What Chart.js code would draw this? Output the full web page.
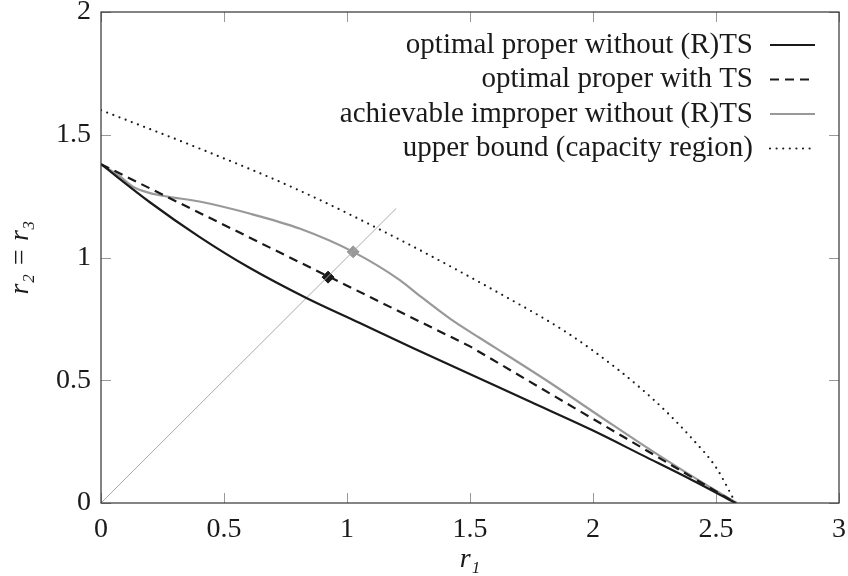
<!DOCTYPE html>
<html>
<head>
<meta charset="utf-8">
<script src="https://cdn.jsdelivr.net/npm/chart.js@4.4.1/dist/chart.umd.min.js"></script>
<style>
  html, body { margin: 0; padding: 0; background: #fff; }
</style>
</head>
<body>
<canvas id="rateRegion" width="848" height="576"></canvas>
<script>
// values
var xTicks = [0, 0.5, 1, 1.5, 2, 2.5, 3];
var yTicks = [0, 0.5, 1, 1.5, 2];

var properX = [0, 0.2, 0.4, 0.6, 0.835, 1.05, 1.27, 1.51, 1.75, 2.0, 2.2, 2.4, 2.58];
var properY = [1.38, 1.224, 1.084, 0.96, 0.835, 0.734, 0.63, 0.52, 0.41, 0.295, 0.195, 0.095, 0];

var tsX = [0, 1.5, 2.58];
var tsY = [1.38, 0.638, 0];

var improperX = [0, 0.077, 0.13, 0.2, 0.27, 0.4, 0.6, 0.81, 1.025, 1.215, 1.283, 1.42, 1.54, 1.61, 1.81, 2.08, 2.19, 2.35, 2.5, 2.585];
var improperY = [1.38, 1.33, 1.288, 1.262, 1.248, 1.228, 1.18, 1.117, 1.023, 0.908, 0.854, 0.75, 0.672, 0.628, 0.50, 0.318, 0.245, 0.142, 0.05, 0];

var upperX = [0, 0.4, 0.8, 1.2, 1.6, 1.9, 2.1, 2.2, 2.3, 2.4, 2.5, 2.58];
var upperY = [1.6, 1.444, 1.276, 1.08, 0.865, 0.69, 0.545, 0.462, 0.37, 0.265, 0.145, 0];

var diagX = [0, 1.2];
var diagY = [0, 1.2];

var tsMark = [0.923, 0.92];
var improperMark = [1.025, 1.023];

var labels = [
    'optimal proper without (R)TS',
    'optimal proper with TS',
    'achievable improper without (R)TS',
    'upper bound (capacity region)'
];

function pts(xs, ys) {
    return xs.map(function (x, i) { return { x: x, y: ys[i] }; });
}

var serif = '"Liberation Serif", "DejaVu Serif", serif';

var datasets = [
    {
        label: labels[0],
        data: pts(properX, properY),
        borderColor: '#1a1a1a',
        borderWidth: 2.2,
        cubicInterpolationMode: 'monotone'
    },
    {
        label: labels[1],
        data: pts(tsX, tsY),
        borderColor: '#1a1a1a',
        borderWidth: 2.2,
        borderDash: [9, 6]
    },
    {
        label: labels[2],
        data: pts(improperX, improperY),
        borderColor: '#999999',
        borderWidth: 2.2,
        cubicInterpolationMode: 'monotone'
    },
    {
        label: labels[3],
        data: pts(upperX, upperY),
        borderColor: '#1a1a1a',
        borderWidth: 2.2,
        borderDash: [0, 6.6],
        borderCapStyle: 'round',
        cubicInterpolationMode: 'monotone'
    },
    {
        label: 'diag',
        data: pts(diagX, diagY),
        borderColor: '#aaaaaa',
        borderWidth: 1
    },
    {
        label: 'ts point',
        data: [{ x: tsMark[0], y: tsMark[1] }],
        showLine: false,
        pointStyle: 'rectRot',
        pointRadius: 6,
        backgroundColor: '#1a1a1a',
        borderColor: '#1a1a1a'
    },
    {
        label: 'improper point',
        data: [{ x: improperMark[0], y: improperMark[1] }],
        showLine: false,
        pointStyle: 'rectRot',
        pointRadius: 6,
        backgroundColor: '#999999',
        borderColor: '#999999'
    }
];

datasets.forEach(function (d) {
    if (d.pointRadius === undefined) d.pointRadius = 0;
    d.fill = false;
});

// inward tick marks, frame and legend in the style of the original
var framePlugin = {
    id: 'frame',
    beforeDatasetsDraw: function (chart) {
        var ctx = chart.ctx, a = chart.chartArea;
        var x = chart.scales.x, y = chart.scales.y;
        ctx.save();
        ctx.strokeStyle = '#999999';
        ctx.lineWidth = 1;
        ctx.beginPath();
        xTicks.forEach(function (v) {
            var px = Math.round(x.getPixelForValue(v)) + 0.5;
            ctx.moveTo(px, a.bottom); ctx.lineTo(px, a.bottom - 10);
            ctx.moveTo(px, a.top); ctx.lineTo(px, a.top + 10);
        });
        yTicks.forEach(function (v) {
            var py = Math.round(y.getPixelForValue(v)) + 0.5;
            ctx.moveTo(a.left, py); ctx.lineTo(a.left + 10, py);
            ctx.moveTo(a.right, py); ctx.lineTo(a.right - 10, py);
        });
        ctx.stroke();
        ctx.restore();
    },
    afterDraw: function (chart) {
        var ctx = chart.ctx, a = chart.chartArea;
        ctx.save();
        ctx.strokeStyle = '#333333';
        ctx.lineWidth = 1.2;
        ctx.strokeRect(a.left, a.top, a.right - a.left, a.bottom - a.top);

        ctx.font = '29px ' + serif;
        ctx.fillStyle = '#1a1a1a';
        ctx.textAlign = 'right';
        ctx.textBaseline = 'middle';
        for (var i = 0; i < 4; i++) {
            var d = chart.data.datasets[i];
            var ry = a.top + 33 + i * 34.5;
            ctx.fillText(d.label, a.right - 86, ry);
            ctx.beginPath();
            ctx.strokeStyle = d.borderColor;
            ctx.lineWidth = d.borderWidth;
            ctx.setLineDash(d.borderDash || []);
            ctx.lineCap = d.borderCapStyle || 'butt';
            ctx.moveTo(a.right - 69, ry);
            ctx.lineTo(a.right - 24, ry);
            ctx.stroke();
        }
        ctx.restore();
    }
};

function plainLabel(v) { return String(v); }

var opciones = {
    responsive: false,
    animation: false,
    layout: { padding: { left: 0, top: 12, right: 9, bottom: 0 } },
    plugins: {
        legend: { display: false },
        tooltip: { enabled: false }
    },
    scales: {
        x: {
            type: 'linear',
            min: 0,
            max: 3,
            afterBuildTicks: function (s) { s.ticks = xTicks.map(function (v) { return { value: v }; }); },
            afterFit: function (s) { s.height = 73; s.paddingLeft = 0; s.paddingRight = 0; },
            grid: { display: false, drawTicks: false },
            border: { display: false },
            ticks: { padding: 10, color: '#1a1a1a', font: { family: serif, size: 28 }, maxRotation: 0, callback: plainLabel },
            title: {
                display: true,
                text: 'r₁',
                color: '#1a1a1a',
                padding: { top: 0, bottom: 0 },
                font: { family: serif, size: 28, style: 'italic' }
            }
        },
        y: {
            type: 'linear',
            min: 0,
            max: 2,
            afterBuildTicks: function (s) { s.ticks = yTicks.map(function (v) { return { value: v }; }); },
            afterFit: function (s) { s.width = 101; s.paddingTop = 0; s.paddingBottom = 0; },
            grid: { display: false, drawTicks: false },
            border: { display: false },
            ticks: { padding: 10, color: '#1a1a1a', font: { family: serif, size: 28 }, callback: plainLabel },
            title: {
                display: true,
                text: 'r₂ = r₃',
                color: '#1a1a1a',
                padding: { top: 4, bottom: 4 },
                font: { family: serif, size: 28, style: 'italic' }
            }
        }
    }
};

var contexto = document.getElementById('rateRegion').getContext('2d');

var grafico = new Chart(contexto, {
    type: 'line',
    data: { datasets: datasets },
    options: opciones,
    plugins: [framePlugin]
});
</script>
</body>
</html>
